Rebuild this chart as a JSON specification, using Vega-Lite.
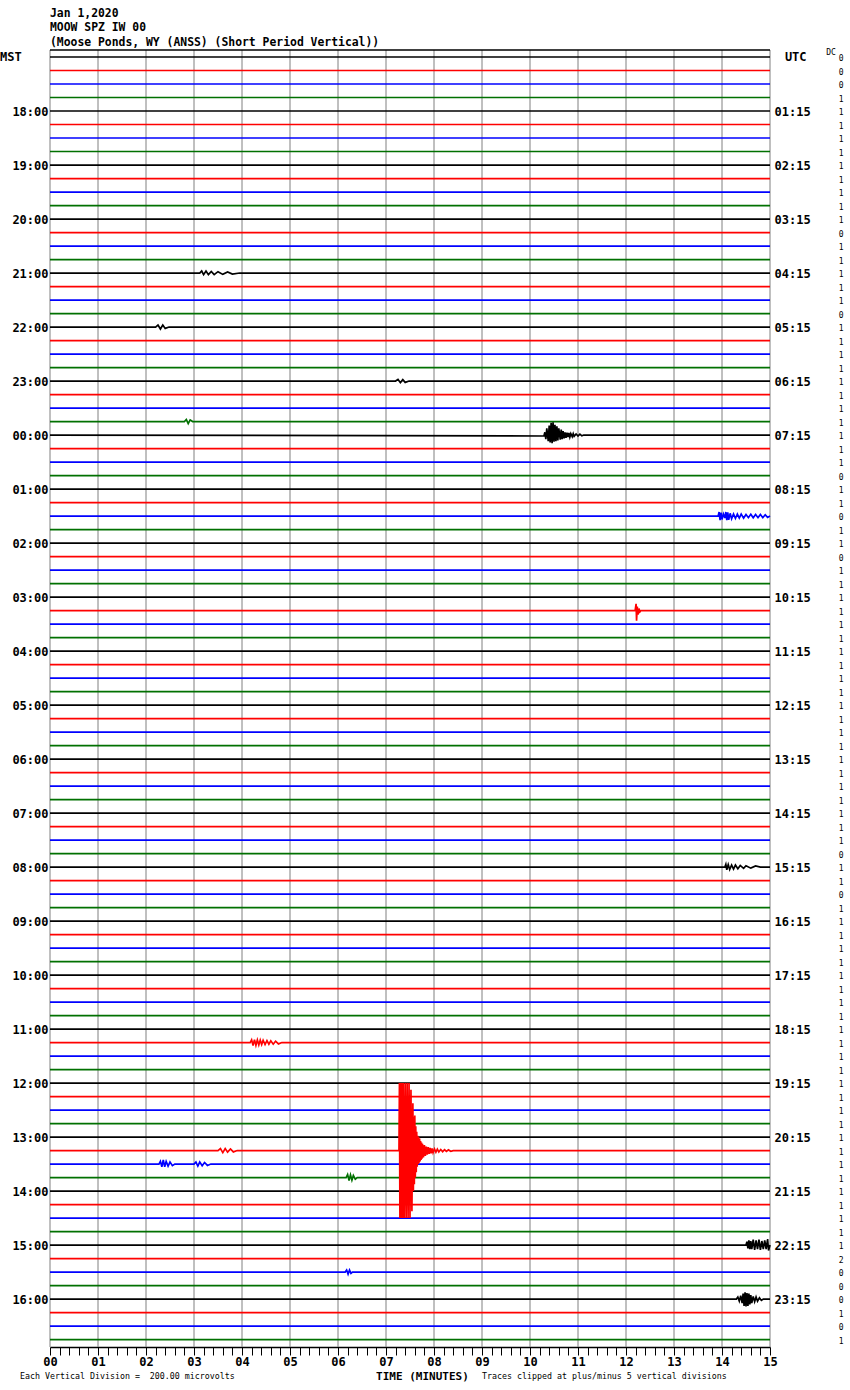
{
"$schema":"https://vega.github.io/schema/vega-lite/v6.json",
"width":720,"height":1297,
"autosize":"none",
"padding":{"left":50,"top":50,"right":80,"bottom":43},
"background":"white",
"config":{"view":{"stroke":null},"font":"DejaVu Sans Mono"},
"datasets":{
"traces":[
{"tr":0,"q":0,"t":[0,15],"y":[0,0]},
{"tr":1,"q":1,"t":[0,15],"y":[1,1]},
{"tr":2,"q":2,"t":[0,15],"y":[2,2]},
{"tr":3,"q":3,"t":[0,15],"y":[3,3]},
{"tr":4,"q":0,"t":[0,15],"y":[4,4]},
{"tr":5,"q":1,"t":[0,15],"y":[5,5]},
{"tr":6,"q":2,"t":[0,15],"y":[6,6]},
{"tr":7,"q":3,"t":[0,15],"y":[7,7]},
{"tr":8,"q":0,"t":[0,15],"y":[8,8]},
{"tr":9,"q":1,"t":[0,15],"y":[9,9]},
{"tr":10,"q":2,"t":[0,15],"y":[10,10]},
{"tr":11,"q":3,"t":[0,15],"y":[11,11]},
{"tr":12,"q":0,"t":[0,15],"y":[12,12]},
{"tr":13,"q":1,"t":[0,15],"y":[13,13]},
{"tr":14,"q":2,"t":[0,15],"y":[14,14]},
{"tr":15,"q":3,"t":[0,15],"y":[15,15]},
{"tr":16,"q":0,"t":[0,3.12,3.16,3.2,3.25,3.3,3.36,3.42,3.5,3.6,3.7,3.8,3.95,15],"y":[16,16,15.85,16.12,15.85,16.12,15.88,16.12,15.9,16.1,15.92,16.08,16,16]},
{"tr":17,"q":1,"t":[0,15],"y":[17,17]},
{"tr":18,"q":2,"t":[0,15],"y":[18,18]},
{"tr":19,"q":3,"t":[0,15],"y":[19,19]},
{"tr":20,"q":0,"t":[0,2.2,2.25,2.3,2.35,2.4,2.48,15],"y":[20,20,19.85,20.15,19.85,20.1,20,20]},
{"tr":21,"q":1,"t":[0,15],"y":[21,21]},
{"tr":22,"q":2,"t":[0,15],"y":[22,22]},
{"tr":23,"q":3,"t":[0,15],"y":[23,23]},
{"tr":24,"q":0,"t":[0,7.2,7.25,7.3,7.35,7.4,7.48,15],"y":[24,24,23.88,24.12,23.9,24.1,24,24]},
{"tr":25,"q":1,"t":[0,15],"y":[25,25]},
{"tr":26,"q":2,"t":[0,15],"y":[26,26]},
{"tr":27,"q":3,"t":[0,2.8,2.84,2.88,2.92,2.97,15],"y":[27,27,26.85,27.15,26.88,27,27]},
{"tr":28,"q":0,"t":[0,10.29,10.31,10.33,10.35,10.38,10.40,10.42,10.44,10.46,10.48,10.50,10.52,10.54,10.56,10.58,10.60,10.63,10.65,10.67,10.69,10.71,10.73,10.75,10.77,10.79,10.81,10.83,10.85,10.88,10.90,10.92,10.96,11.0,11.04,11.08,11.12,15],"y":[28,28.07,27.8,28.3,27.5,28.45,27.3,28.55,27.1,28.6,27.05,28.5,27.25,28.45,27.35,28.4,27.5,28.35,27.6,28.3,27.7,28.25,27.8,28.2,27.82,28.15,27.85,28.15,27.9,28.12,27.9,28.1,27.92,28.08,27.93,28.06,28,28]},
{"tr":29,"q":1,"t":[0,15],"y":[29,29]},
{"tr":30,"q":2,"t":[0,15],"y":[30,30]},
{"tr":31,"q":3,"t":[0,15],"y":[31,31]},
{"tr":32,"q":0,"t":[0,15],"y":[32,32]},
{"tr":33,"q":1,"t":[0,15],"y":[33,33]},
{"tr":34,"q":2,"t":[0,13.92,13.94,13.96,13.98,14.0,14.03,14.06,14.08,14.1,14.12,14.14,14.17,14.2,14.24,14.28,14.32,14.36,14.4,14.45,14.5,14.55,14.6,14.65,14.7,14.75,14.8,14.85,14.9,14.95,15],"y":[34,34,33.7,34.3,33.75,34.25,33.85,34.15,33.7,34.3,33.72,34.28,33.8,34.2,33.85,34.18,33.85,34.15,33.85,34.15,33.88,34.12,33.87,34.13,33.88,34.12,33.88,34.12,33.9,34.1,34]},
{"tr":35,"q":3,"t":[0,15],"y":[35,35]},
{"tr":36,"q":0,"t":[0,15],"y":[36,36]},
{"tr":37,"q":1,"t":[0,15],"y":[37,37]},
{"tr":38,"q":2,"t":[0,15],"y":[38,38]},
{"tr":39,"q":3,"t":[0,15],"y":[39,39]},
{"tr":40,"q":0,"t":[0,15],"y":[40,40]},
{"tr":41,"q":1,"t":[0,12.19,12.21,12.22,12.235,12.25,12.27,12.29,12.31,15],"y":[41,41,40.5,41.75,40.7,41.3,40.85,41.1,41,41]},
{"tr":42,"q":2,"t":[0,15],"y":[42,42]},
{"tr":43,"q":3,"t":[0,15],"y":[43,43]},
{"tr":44,"q":0,"t":[0,15],"y":[44,44]},
{"tr":45,"q":1,"t":[0,15],"y":[45,45]},
{"tr":46,"q":2,"t":[0,15],"y":[46,46]},
{"tr":47,"q":3,"t":[0,15],"y":[47,47]},
{"tr":48,"q":0,"t":[0,15],"y":[48,48]},
{"tr":49,"q":1,"t":[0,15],"y":[49,49]},
{"tr":50,"q":2,"t":[0,15],"y":[50,50]},
{"tr":51,"q":3,"t":[0,15],"y":[51,51]},
{"tr":52,"q":0,"t":[0,15],"y":[52,52]},
{"tr":53,"q":1,"t":[0,15],"y":[53,53]},
{"tr":54,"q":2,"t":[0,15],"y":[54,54]},
{"tr":55,"q":3,"t":[0,15],"y":[55,55]},
{"tr":56,"q":0,"t":[0,15],"y":[56,56]},
{"tr":57,"q":1,"t":[0,15],"y":[57,57]},
{"tr":58,"q":2,"t":[0,15],"y":[58,58]},
{"tr":59,"q":3,"t":[0,15],"y":[59,59]},
{"tr":60,"q":0,"t":[0,14.06,14.08,14.1,14.13,14.16,14.2,14.24,14.28,14.33,14.38,14.45,14.5,14.6,14.7,14.8,15],"y":[60,60,59.8,60.2,59.82,60.18,59.85,60.15,59.85,60.12,59.88,60.1,59.9,60.08,59.92,60,60]},
{"tr":61,"q":1,"t":[0,15],"y":[61,61]},
{"tr":62,"q":2,"t":[0,15],"y":[62,62]},
{"tr":63,"q":3,"t":[0,15],"y":[63,63]},
{"tr":64,"q":0,"t":[0,15],"y":[64,64]},
{"tr":65,"q":1,"t":[0,15],"y":[65,65]},
{"tr":66,"q":2,"t":[0,15],"y":[66,66]},
{"tr":67,"q":3,"t":[0,15],"y":[67,67]},
{"tr":68,"q":0,"t":[0,15],"y":[68,68]},
{"tr":69,"q":1,"t":[0,15],"y":[69,69]},
{"tr":70,"q":2,"t":[0,15],"y":[70,70]},
{"tr":71,"q":3,"t":[0,15],"y":[71,71]},
{"tr":72,"q":0,"t":[0,15],"y":[72,72]},
{"tr":73,"q":1,"t":[0,4.17,4.2,4.23,4.26,4.29,4.32,4.35,4.38,4.41,4.44,4.48,4.52,4.56,4.6,4.65,4.7,4.76,4.83,15],"y":[73,73,72.8,73.22,72.78,73.2,72.8,73.18,72.82,73.15,72.83,73.15,72.85,73.12,72.87,73.12,72.9,73.1,73,73]},
{"tr":74,"q":2,"t":[0,15],"y":[74,74]},
{"tr":75,"q":3,"t":[0,15],"y":[75,75]},
{"tr":76,"q":0,"t":[0,15],"y":[76,76]},
{"tr":77,"q":1,"t":[0,15],"y":[77,77]},
{"tr":78,"q":2,"t":[0,15],"y":[78,78]},
{"tr":79,"q":3,"t":[0,15],"y":[79,79]},
{"tr":80,"q":0,"t":[0,15],"y":[80,80]},
{"tr":82,"q":2,"t":[0,2.27,2.3,2.33,2.36,2.39,2.42,2.46,2.5,2.55,2.6,3.0,3.04,3.08,3.12,3.17,3.22,3.28,3.35,15],"y":[82,82,81.8,82.2,81.7,82.2,81.8,82.15,81.85,82.12,82,82,81.85,82.15,81.85,82.12,81.88,82.1,82,82]},
{"tr":83,"q":3,"t":[0,6.17,6.2,6.23,6.26,6.29,6.32,6.36,6.4,15],"y":[83,83,82.78,83.22,82.8,83.2,82.85,83.12,83,83]},
{"tr":84,"q":0,"t":[0,15],"y":[84,84]},
{"tr":85,"q":1,"t":[0,15],"y":[85,85]},
{"tr":86,"q":2,"t":[0,15],"y":[86,86]},
{"tr":87,"q":3,"t":[0,15],"y":[87,87]},
{"tr":88,"q":0,"t":[0,14.5,14.52,14.54,14.56,14.58,14.6,14.62,14.65,14.68,14.71,14.74,14.77,14.8,14.83,14.86,14.89,14.92,14.95,14.97,15],"y":[88,88,87.75,88.25,87.65,88.3,87.7,88.3,87.6,88.35,87.65,88.3,87.6,88.35,87.7,88.3,87.65,88.3,87.55,88.4,88]},
{"tr":89,"q":1,"t":[0,15],"y":[89,89]},
{"tr":90,"q":2,"t":[0,6.15,6.18,6.21,6.24,6.27,6.3,15],"y":[90,90,89.85,90.15,89.85,90.1,90,90]},
{"tr":91,"q":3,"t":[0,15],"y":[91,91]},
{"tr":92,"q":0,"t":[0,14.3,14.33,14.36,14.39,14.42,14.44,14.46,14.48,14.5,14.52,14.54,14.56,14.58,14.6,14.62,14.65,14.68,14.71,14.74,14.78,14.82,14.86,15],"y":[92,92,91.85,92.15,91.75,92.3,91.6,92.5,91.5,92.55,91.55,92.5,91.6,92.4,91.7,92.3,91.8,92.2,91.85,92.15,91.9,92.1,92,92]},
{"tr":93,"q":1,"t":[0,15],"y":[93,93]},
{"tr":94,"q":2,"t":[0,15],"y":[94,94]},
{"tr":95,"q":3,"t":[0,15],"y":[95,95]},
{"tr":81,"q":1,"t":[0,3.5,3.55,3.6,3.65,3.7,3.76,3.82,3.9,7.27,7.28,7.29,7.30,7.31,7.32,7.33,7.34,7.35,7.36,7.38,7.40,7.42,7.44,7.46,7.48,7.50,7.52,7.54,7.56,7.57,7.58,7.59,7.60,7.61,7.62,7.63,7.64,7.65,7.66,7.67,7.68,7.69,7.70,7.71,7.72,7.73,7.74,7.75,7.76,7.78,7.80,7.82,7.84,7.86,7.88,7.90,7.92,7.94,7.96,7.98,8.01,8.04,8.07,8.10,8.14,8.18,8.22,8.26,8.30,8.35,8.4,15],"y":[81,81,80.85,81.15,80.85,81.12,80.88,81.1,81,81,76,86,76,86,76,86,76,86,76,86,76,86,76,86,76,86,76.5,85.5,77.5,84,78.5,83.5,78.4,83.0,79.2,82.6,79.6,82.2,79.9,82.0,80.0,81.9,80.1,81.8,80.3,81.7,80.4,81.6,80.5,81.5,80.6,81.4,80.7,81.3,80.75,81.25,80.8,81.2,80.85,81.15,80.88,81.12,80.9,81.1,80.92,81.08,80.94,81.06,80.95,81.05,81,81]}
],
"dc":[{"tr":[0,1,2,3,4,5,6,7,8,9,10,11,12,13,14,15,16,17,18,19,20,21,22,23,24,25,26,27,28,29,30,31,32,33,34,35,36,37,38,39,40,41,42,43,44,45,46,47,48,49,50,51,52,53,54,55,56,57,58,59,60,61,62,63,64,65,66,67,68,69,70,71,72,73,74,75,76,77,78,79,80,81,82,83,84,85,86,87,88,89,90,91,92,93,94,95],
"dc":["0","0","0","1","1","1","1","1","1","1","1","1","1","0","1","1","1","1","1","0","1","1","1","1","1","1","1","1","1","1","1","0","1","1","0","1","1","0","1","1","1","1","1","1","1","1","1","1","1","1","1","1","1","1","1","1","1","1","1","0","1","1","0","1","1","1","1","1","1","1","1","1","1","1","1","1","1","1","1","1","1","1","1","1","1","1","1","1","1","2","0","0","0","1","0","1"]}]
},
"layer":[
{"data":{"values":[{"m":0},{"m":1},{"m":2},{"m":3},{"m":4},{"m":5},{"m":6},{"m":7},{"m":8},{"m":9},{"m":10},{"m":11},{"m":12},{"m":13},{"m":14},{"m":15}]},
 "mark":{"type":"rule","color":"#808080","strokeWidth":1},
 "encoding":{"x":{"field":"m","type":"quantitative","scale":{"domain":[0,15],"nice":false,"zero":false},"axis":null}}},
{"data":{"values":[{}]},
 "mark":{"type":"rule","color":"black","strokeWidth":1.5},
 "encoding":{"y":{"datum":-0.52,"type":"quantitative","scale":{"domain":[-0.52,95.55],"reverse":true,"nice":false,"zero":false},"axis":null}}},
{"data":{"name":"traces"},
 "transform":[{"flatten":["t","y"]}],
 "mark":{"type":"line","strokeWidth":1.7,"interpolate":"linear"},
 "encoding":{
  "x":{"field":"t","type":"quantitative","scale":{"domain":[0,15],"nice":false,"zero":false},
   "axis":{"orient":"bottom","values":[0,0.2,0.4,0.6,0.8,1,1.2,1.4,1.6,1.8,2,2.2,2.4,2.6,2.8,3,3.2,3.4,3.6,3.8,4,4.2,4.4,4.6,4.8,5,5.2,5.4,5.6,5.8,6,6.2,6.4,6.6,6.8,7,7.2,7.4,7.6,7.8,8,8.2,8.4,8.6,8.8,9,9.2,9.4,9.6,9.8,10,10.2,10.4,10.6,10.8,11,11.2,11.4,11.6,11.8,12,12.2,12.4,12.6,12.8,13,13.2,13.4,13.6,13.8,14,14.2,14.4,14.6,14.8,15],
    "labelExpr":"abs(datum.value - round(datum.value)) < 0.001 ? (datum.value < 10 ? '0' : '') + round(datum.value) : ''",
    "tickSize":8,"tickColor":"black","tickWidth":1,"domainColor":"black","domainWidth":1.5,
    "labelFont":"DejaVu Sans Mono","labelFontWeight":"bold","labelFontSize":12,"labelColor":"black","labelPadding":1,
    "labelOverlap":false,"labelFlush":false,"labelBound":false,"grid":false,"title":null}},
  "y":{"field":"y","type":"quantitative","scale":{"domain":[-0.52,95.55],"reverse":true,"nice":false,"zero":false},
   "axis":{"orient":"left","values":[4,8,12,16,20,24,28,32,36,40,44,48,52,56,60,64,68,72,76,80,84,88,92],
    "labelExpr":"(((17 + datum.value/4) % 24) < 10 ? '0' : '') + ((17 + datum.value/4) % 24) + ':00'",
    "ticks":false,"domain":false,"grid":false,"title":null,
    "labelFont":"DejaVu Sans Mono","labelFontWeight":"bold","labelFontSize":12,"labelColor":"black","labelPadding":2,"labelOverlap":false,"labelBaseline":"middle","labelBound":false}},
  "detail":{"field":"tr","type":"nominal"},
  "color":{"field":"q","type":"nominal","scale":{"domain":[0,1,2,3],"range":["#000000","#ff0000","#0000ff","#007000"]},"legend":null},
  "order":{"field":"t","type":"quantitative"}}},
{"data":{"name":"dc"},
 "transform":[{"flatten":["tr","dc"]}],
 "mark":{"type":"text","font":"DejaVu Sans Mono","fontSize":8,"align":"center","baseline":"middle","dy":2,"color":"black"},
 "encoding":{
  "x":{"datum":16.48,"type":"quantitative","axis":null},
  "y":{"field":"tr","type":"quantitative","scale":{"domain":[-0.52,95.55],"reverse":true,"nice":false,"zero":false},
   "axis":{"orient":"right","values":[4,8,12,16,20,24,28,32,36,40,44,48,52,56,60,64,68,72,76,80,84,88,92],
    "labelExpr":"(datum.value/4 < 10 ? '0' : '') + (datum.value/4) + ':15'",
    "ticks":false,"domain":false,"grid":false,"title":null,
    "labelFont":"DejaVu Sans Mono","labelFontWeight":"bold","labelFontSize":12,"labelColor":"black","labelPadding":4,"labelOverlap":false,"labelBaseline":"middle","labelAlign":"left","labelBound":false}},
  "text":{"field":"dc","type":"nominal"}}},
{"data":{"values":[{}]},"mark":{"type":"text","align":"left","baseline":"middle","font":"DejaVu Sans Mono","fontSize":11.4,"fontWeight":"bold","color":"black","text":"Jan 1,2020"},
 "encoding":{"x":{"datum":0,"type":"quantitative","axis":null},"y":{"datum":-3.18,"type":"quantitative","axis":null}}},
{"data":{"values":[{}]},"mark":{"type":"text","align":"left","baseline":"middle","font":"DejaVu Sans Mono","fontSize":11.4,"fontWeight":"bold","color":"black","text":"MOOW SPZ IW 00"},
 "encoding":{"x":{"datum":0,"type":"quantitative","axis":null},"y":{"datum":-2.15,"type":"quantitative","axis":null}}},
{"data":{"values":[{}]},"mark":{"type":"text","align":"left","baseline":"middle","font":"DejaVu Sans Mono","fontSize":11.4,"fontWeight":"bold","color":"black","text":"(Moose Ponds, WY (ANSS) (Short Period Vertical))"},
 "encoding":{"x":{"datum":0,"type":"quantitative","axis":null},"y":{"datum":-1.04,"type":"quantitative","axis":null}}},
{"data":{"values":[{}]},"mark":{"type":"text","align":"left","baseline":"middle","font":"DejaVu Sans Mono","fontSize":12,"fontWeight":"bold","color":"black","text":"MST"},
 "encoding":{"x":{"datum":-1.04,"type":"quantitative","axis":null},"y":{"datum":0,"type":"quantitative","axis":null}}},
{"data":{"values":[{}]},"mark":{"type":"text","align":"left","baseline":"middle","font":"DejaVu Sans Mono","fontSize":12,"fontWeight":"bold","color":"black","text":"UTC"},
 "encoding":{"x":{"datum":15.31,"type":"quantitative","axis":null},"y":{"datum":0,"type":"quantitative","axis":null}}},
{"data":{"values":[{}]},"mark":{"type":"text","align":"left","baseline":"middle","font":"DejaVu Sans Mono","fontSize":8,"color":"black","text":"DC"},
 "encoding":{"x":{"datum":16.17,"type":"quantitative","axis":null},"y":{"datum":-0.3,"type":"quantitative","axis":null}}},
{"data":{"values":[{}]},"mark":{"type":"text","align":"left","baseline":"middle","font":"DejaVu Sans Mono","fontSize":8.3,"color":"black","text":"Each Vertical Division =\u00a0 200.00 microvolts"},
 "encoding":{"x":{"datum":-0.625,"type":"quantitative","axis":null},"y":{"datum":97.78,"type":"quantitative","axis":null}}},
{"data":{"values":[{}]},"mark":{"type":"text","align":"center","baseline":"middle","font":"DejaVu Sans Mono","fontSize":11,"fontWeight":"bold","color":"black","text":"TIME (MINUTES)"},
 "encoding":{"x":{"datum":7.76,"type":"quantitative","axis":null},"y":{"datum":97.78,"type":"quantitative","axis":null}}},
{"data":{"values":[{}]},"mark":{"type":"text","align":"left","baseline":"middle","font":"DejaVu Sans Mono","fontSize":8.3,"color":"black","text":"Traces clipped at plus/minus 5 vertical divisions"},
 "encoding":{"x":{"datum":9.0,"type":"quantitative","axis":null},"y":{"datum":97.78,"type":"quantitative","axis":null}}}
],
"resolve":{"axis":{"x":"independent","y":"independent"}}
}
